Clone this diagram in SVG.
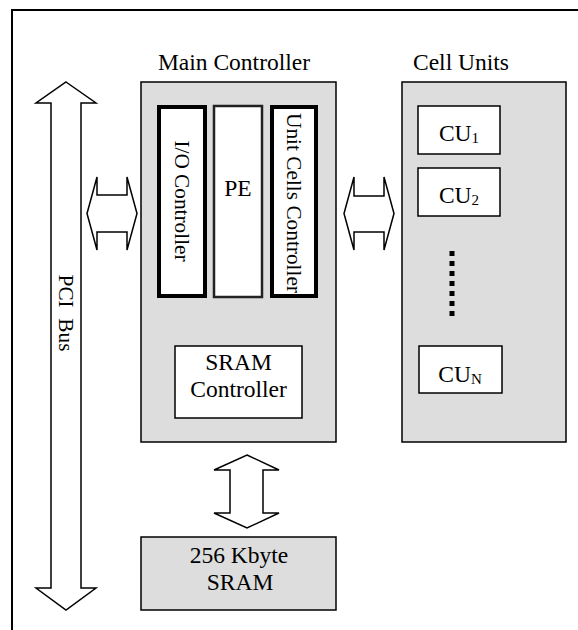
<svg xmlns="http://www.w3.org/2000/svg" width="578" height="630" viewBox="0 0 578 630">
<style>
text{font-family:"Liberation Serif","Times New Roman",serif;fill:#000}
.t{font-size:23.5px;text-anchor:middle}
.r{font-size:21.3px;text-anchor:middle}
.panel{fill:#dddddd;stroke:#000;stroke-width:1.5}
.box{fill:#fff;stroke:#000;stroke-width:1.5}
.thick{fill:#fff;stroke:#000;stroke-width:4}
.arrow{fill:#fff;stroke:#000;stroke-width:1.5;stroke-linejoin:miter}
</style>
<rect width="578" height="630" fill="#fff"/>
<path d="M12,632 V10 H580" fill="none" stroke="#000" stroke-width="2"/>

<g id="connectors">
  <polygon class="arrow" points="66,82 96,103 81,103 81,588 96,588 66,610 36,588 51,588 51,103 36,103"/>
  <polygon class="arrow" points="97,177 97,195 127,195 127,177 137,213.5 127,250 127,232 97,232 97,250 87,213.5"/>
  <polygon class="arrow" points="354,177 354,196 384,196 384,177 394,213.5 384,250 384,232 354,232 354,250 344,213.5"/>
  <polygon class="arrow" points="247,455 279,470 263,470 263,513 279,513 247,528 214,513 230,513 230,470 214,470"/>
</g>

<g id="pci-bus">
  <text class="r" style="white-space:pre" transform="translate(66,313) rotate(90)" y="7">PCI  Bus</text>
</g>

<g id="main-controller">
  <text class="t" x="234" y="70">Main Controller</text>
  <rect class="panel" x="141" y="82" width="195" height="360"/>
</g>

<g id="io-controller">
  <rect class="thick" x="159" y="107" width="46" height="189"/>
  <text class="r" transform="translate(182,201) rotate(90)" y="7">I/O Controller</text>
</g>

<g id="pe">
  <rect x="214" y="106" width="48" height="191" fill="#fff" stroke="#222" stroke-width="2.5"/>
  <text class="t" x="238" y="196">PE</text>
</g>

<g id="unit-cells-controller">
  <rect class="thick" x="272" y="107" width="44" height="189"/>
  <text class="r" transform="translate(294,203) rotate(90)" y="7">Unit Cells Controller</text>
</g>

<g id="sram-controller">
  <rect class="box" x="175" y="346" width="127" height="72"/>
  <text class="t" x="238.5" y="370">SRAM</text>
  <text class="t" x="238.5" y="397">Controller</text>
</g>

<g id="cell-units">
  <text class="t" x="461" y="70">Cell Units</text>
  <rect class="panel" x="402" y="82" width="164" height="360"/>
  <line x1="452" y1="251" x2="452" y2="316" stroke="#000" stroke-width="5" stroke-dasharray="5 5"/>
</g>

<g id="cu1">
  <rect class="box" x="418" y="106" width="82" height="48"/>
  <text class="t" x="459" y="141">CU<tspan font-size="15" dy="2">1</tspan></text>
</g>
<g id="cu2">
  <rect class="box" x="418" y="168" width="82" height="48"/>
  <text class="t" x="459" y="203">CU<tspan font-size="15" dy="2">2</tspan></text>
</g>
<g id="cun">
  <rect class="box" x="419" y="346" width="83" height="47"/>
  <text class="t" x="460" y="382">CU<tspan font-size="15" dy="2">N</tspan></text>
</g>

<g id="sram">
  <rect class="panel" x="141" y="537" width="195" height="73"/>
  <text class="t" x="239" y="563">256 Kbyte</text>
  <text class="t" x="240" y="590">SRAM</text>
</g>
</svg>
